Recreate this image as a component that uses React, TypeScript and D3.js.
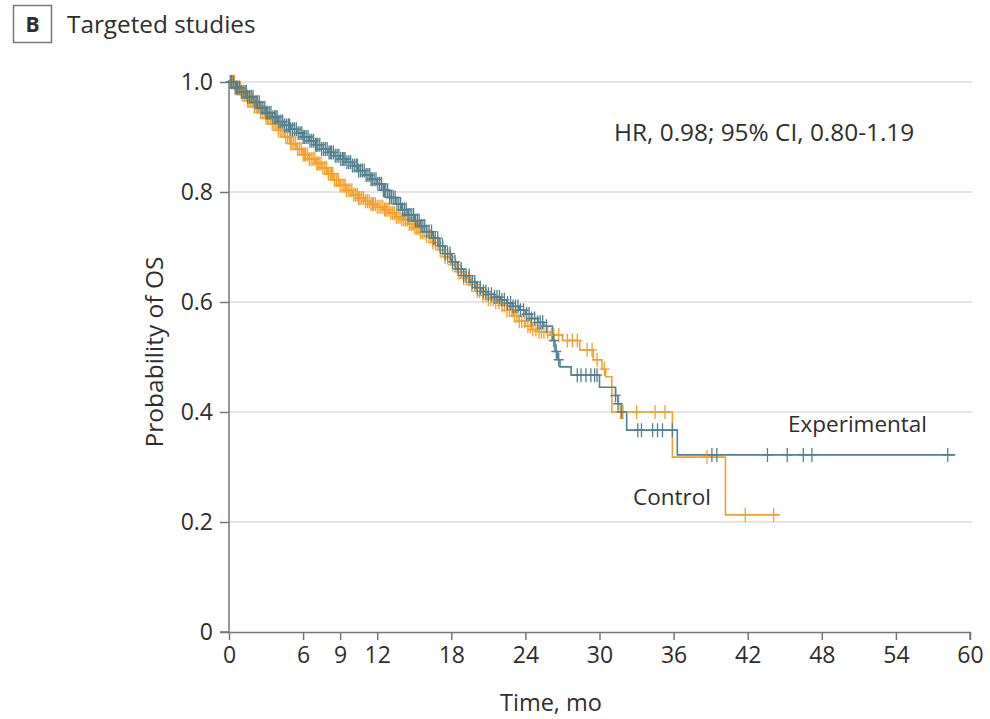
import React, { useEffect, useRef } from "react";
import * as d3 from "d3";

// Kaplan-Meier step points [time (mo), survival]
const experimentalSteps: [number, number][] = [
  [0, 1.0], [0.5, 0.99], [1, 0.982], [1.5, 0.973], [2, 0.963], [2.5, 0.953],
  [3, 0.944], [3.5, 0.936], [4, 0.928], [4.5, 0.921], [5, 0.914], [5.5, 0.907],
  [6, 0.9], [6.5, 0.893], [7, 0.886], [7.5, 0.878], [8, 0.872], [8.5, 0.866],
  [9, 0.86], [9.5, 0.854], [10, 0.848], [10.5, 0.839], [11, 0.831], [11.5, 0.823],
  [12, 0.815], [12.5, 0.803], [13, 0.79], [13.5, 0.778], [14, 0.768], [14.5, 0.758],
  [15, 0.748], [15.5, 0.738], [16, 0.728], [16.5, 0.716], [17, 0.702], [17.5, 0.688],
  [18, 0.673], [18.5, 0.66], [19, 0.648], [19.5, 0.636], [20, 0.626], [20.5, 0.619],
  [21, 0.614], [21.5, 0.609], [22, 0.604], [22.5, 0.598], [23, 0.592], [23.5, 0.585],
  [24, 0.578], [24.5, 0.57], [25, 0.563], [25.5, 0.556], [26.2, 0.53], [26.4, 0.51],
  [26.6, 0.495], [26.8, 0.482], [27.7, 0.467], [30.0, 0.445], [31.3, 0.43],
  [31.5, 0.415], [31.7, 0.4], [32.2, 0.367], [36.3, 0.322],
];
const experimentalEnd = 58.8;

const controlSteps: [number, number][] = [
  [0, 1.0], [0.5, 0.988], [1, 0.977], [1.5, 0.966], [2, 0.955], [2.5, 0.945],
  [3, 0.935], [3.5, 0.924], [4, 0.912], [4.5, 0.9], [5, 0.888], [5.5, 0.878],
  [6, 0.868], [6.5, 0.86], [7, 0.852], [7.5, 0.844], [8, 0.833], [8.5, 0.822],
  [9, 0.812], [9.5, 0.803], [10, 0.795], [10.5, 0.789], [11, 0.783], [11.5, 0.778],
  [12, 0.773], [12.5, 0.768], [13, 0.762], [13.5, 0.755], [14, 0.75], [14.5, 0.742],
  [15, 0.735], [15.5, 0.727], [16, 0.72], [16.5, 0.708], [17, 0.695], [17.5, 0.682],
  [18, 0.668], [18.5, 0.655], [19, 0.643], [19.5, 0.631], [20, 0.62], [20.5, 0.612],
  [21, 0.605], [21.5, 0.6], [22, 0.594], [22.5, 0.585], [23, 0.575], [23.5, 0.565],
  [24, 0.556], [24.5, 0.55], [25, 0.546], [26, 0.54], [27, 0.53], [28.4, 0.513],
  [29.5, 0.495], [30.2, 0.478], [30.5, 0.464], [31.0, 0.4], [35.9, 0.318], [40.2, 0.213],
];
const controlEnd = 44.6;

// censoring times (mo)
const experimentalCensored = [
  0.1, 0.2, 0.35, 0.5, 0.6, 0.7, 0.85, 1.0, 1.15, 1.3, 1.4, 1.5, 1.65, 1.8, 1.95, 2.1,
  2.2, 2.3, 2.45, 2.6, 2.75, 2.9, 3.0, 3.1, 3.25, 3.4, 3.55, 3.7, 3.8, 3.9, 4.05, 4.2,
  4.35, 4.5, 4.65, 4.8, 4.9, 5.0, 5.15, 5.3, 5.45, 5.6, 5.75, 5.9, 6.0, 6.1, 6.25, 6.4,
  6.55, 6.7, 6.85, 7.0, 7.1, 7.2, 7.35, 7.5, 7.65, 7.8, 7.95, 8.1, 8.2, 8.3, 8.45, 8.6,
  8.75, 8.9, 9.05, 9.2, 9.3, 9.4, 9.55, 9.7, 9.85, 10.0, 10.15, 10.3, 10.4, 10.5, 10.65,
  10.8, 10.95, 11.1, 11.25, 11.4, 11.5, 11.6, 11.75, 11.9, 12.05, 12.2, 12.35, 12.5,
  12.6, 12.7, 12.85, 13.0, 13.15, 13.3, 13.45, 13.6, 13.75, 13.9, 14.05, 14.2, 14.35,
  14.5, 14.65, 14.8, 14.95, 15.1, 15.25, 15.4, 15.55, 15.7, 15.85, 16.0, 16.2, 16.4,
  16.55, 16.7, 16.9, 17.1, 17.3, 17.5, 17.7, 17.9, 18.1, 18.3, 18.55, 18.8, 19.0, 19.2,
  19.45, 19.7, 19.9, 20.1, 20.35, 20.6, 20.8, 21.0, 21.25, 21.5, 21.7, 21.9, 22.1, 22.3,
  22.55, 22.8, 23.0, 23.2, 23.4, 23.6, 23.85, 24.1, 24.3, 24.5, 24.75, 25.0, 25.2, 25.4,
  25.7, 26.3, 26.5, 26.7, 28.2, 28.5, 28.9, 29.3, 29.6, 29.8, 31.3, 31.5, 31.8, 33.1,
  33.4, 34.3, 34.7, 35.1, 35.9, 39.1, 39.5, 43.6, 45.2, 46.5, 47.2, 58.2,
];
const controlCensored = [
  0.15, 0.3, 0.45, 0.6, 0.7, 0.8, 0.95, 1.1, 1.25, 1.4, 1.5, 1.6, 1.75, 1.9, 2.05, 2.2,
  2.3, 2.4, 2.55, 2.7, 2.85, 3.0, 3.1, 3.2, 3.35, 3.5, 3.65, 3.8, 3.9, 4.0, 4.15, 4.3,
  4.45, 4.6, 4.75, 4.9, 5.0, 5.1, 5.25, 5.4, 5.55, 5.7, 5.85, 6.0, 6.1, 6.2, 6.35, 6.5,
  6.65, 6.8, 6.95, 7.1, 7.2, 7.3, 7.45, 7.6, 7.75, 7.9, 8.05, 8.2, 8.3, 8.4, 8.55, 8.7,
  8.85, 9.0, 9.15, 9.3, 9.4, 9.5, 9.65, 9.8, 9.95, 10.1, 10.25, 10.4, 10.5, 10.6, 10.75,
  10.9, 11.05, 11.2, 11.35, 11.5, 11.6, 11.7, 11.85, 12.0, 12.15, 12.3, 12.45, 12.6,
  12.7, 12.8, 12.95, 13.1, 13.25, 13.4, 13.55, 13.7, 13.85, 14.0, 14.15, 14.3, 14.45,
  14.6, 14.75, 14.9, 15.05, 15.2, 15.35, 15.5, 15.65, 15.8, 16.0, 16.2, 16.35, 16.5,
  16.7, 16.9, 17.1, 17.3, 17.5, 17.7, 17.9, 18.1, 18.35, 18.6, 18.8, 19.0, 19.2, 19.4,
  19.65, 19.9, 20.1, 20.3, 20.55, 20.8, 21.0, 21.2, 21.4, 21.6, 21.85, 22.1, 22.3, 22.5,
  22.7, 22.9, 23.1, 23.3, 23.5, 23.7, 23.95, 24.2, 24.4, 24.6, 24.85, 25.1, 25.3, 25.5,
  25.8, 26.1, 26.3, 26.7, 27.4, 27.8, 28.2, 29.0, 29.4, 29.8, 30.4, 31.7, 31.9, 33.0,
  34.5, 35.3, 38.7, 41.8, 44.1,
];

const xTicks = [0, 6, 9, 12, 18, 24, 30, 36, 42, 48, 54, 60];
const yTicks = [0, 0.2, 0.4, 0.6, 0.8, 1.0];

const BLUE = "#52808f";
const ORANGE = "#f4a02c";
const FONT = "'Open Sans', 'Noto Sans', sans-serif";
const INK = "#2e2e2e";

export default function App() {
  const ref = useRef<SVGSVGElement>(null);

  useEffect(() => {
    const width = 990;
    const height = 719;
    const left = 229, right = 970, top = 82, bottom = 632;

    const svg = d3.select(ref.current);
    svg.selectAll("*").remove();
    svg.attr("width", width).attr("height", height);

    const x = d3.scaleLinear().domain([0, 60]).range([left, right]);
    const y = d3.scaleLinear().domain([0, 1]).range([bottom, top]);

    // title
    svg.append("rect")
      .attr("x", 13.5).attr("y", 5.5).attr("width", 38).attr("height", 37)
      .attr("fill", "none").attr("stroke", "#777").attr("stroke-width", 1.5);
    svg.append("text")
      .attr("x", 32.5).attr("y", 32).attr("text-anchor", "middle")
      .attr("font-family", FONT).attr("font-weight", 700).attr("font-size", 21)
      .attr("fill", INK).text("B");
    svg.append("text")
      .attr("x", 67).attr("y", 33)
      .attr("font-family", FONT).attr("font-size", 24.3)
      .attr("fill", INK).text("Targeted studies");

    // gridlines
    svg.append("g")
      .selectAll("line")
      .data(yTicks.filter((d) => d > 0))
      .enter()
      .append("line")
      .attr("x1", left).attr("x2", right + 2)
      .attr("y1", (d) => y(d)).attr("y2", (d) => y(d))
      .attr("stroke", "#dcdcdc").attr("stroke-width", 1.5);

    // axes
    const yAxis = svg.append("g")
      .attr("transform", `translate(${left},0)`)
      .call(d3.axisLeft(y).tickValues(yTicks).tickSize(9).tickPadding(7)
        .tickFormat((d) => (+d === 0 ? "0" : d3.format(".1f")(+d))));
    const xAxis = svg.append("g")
      .attr("transform", `translate(0,${bottom})`)
      .call(d3.axisBottom(x).tickValues(xTicks).tickSize(8).tickPadding(15)
        .tickFormat(d3.format("d")));
    [xAxis, yAxis].forEach((g) => {
      g.select(".domain").attr("stroke", "#777").attr("stroke-width", 1.5);
      g.selectAll(".tick line").attr("stroke", "#777").attr("stroke-width", 1.5);
      g.selectAll(".tick text")
        .attr("font-family", FONT).attr("font-size", 23).attr("fill", INK);
    });
    xAxis.selectAll(".tick text").attr("y", 15).attr("dy", "0.71em");
    xAxis.select(".domain").attr("d", `M${left},0.5H${right}V8`);
    yAxis.select(".domain").attr("d", `M-9,${bottom}H0V${top - 2}`);

    // axis titles
    svg.append("text")
      .attr("x", 551).attr("y", 711).attr("text-anchor", "middle")
      .attr("font-family", FONT).attr("font-size", 23.5).attr("fill", INK)
      .text("Time, mo");
    svg.append("text")
      .attr("transform", `translate(163,${(top + bottom) / 2 - 5}) rotate(-90)`)
      .attr("text-anchor", "middle")
      .attr("font-family", FONT).attr("font-size", 24.5).attr("fill", INK)
      .text("Probability of OS");

    const line = d3.line<[number, number]>()
      .x((d) => x(d[0])).y((d) => y(d[1]))
      .curve(d3.curveStepAfter);

    const survAt = (steps: [number, number][], t: number) => {
      const i = d3.bisector((d: [number, number]) => d[0]).right(steps, t) - 1;
      return steps[Math.max(i, 0)][1];
    };

    const arms = [
      { steps: controlSteps, end: controlEnd, censored: controlCensored, color: ORANGE },
      { steps: experimentalSteps, end: experimentalEnd, censored: experimentalCensored, color: BLUE },
    ];

    arms.forEach((arm) => {
      const pts: [number, number][] = [...arm.steps, [arm.end, arm.steps[arm.steps.length - 1][1]]];
      svg.append("path")
        .attr("d", line(pts))
        .attr("fill", "none").attr("stroke", arm.color).attr("stroke-width", 1.6);
    });

    // censor marks
    arms.forEach((arm) => {
      const g = svg.append("g").attr("stroke", arm.color).attr("stroke-width", 1.3);
      g.selectAll("path")
        .data(arm.censored)
        .enter()
        .append("path")
        .attr("d", (t) => {
          const cx = x(t), cy = y(survAt(arm.steps, t));
          return `M${cx},${cy - 7}V${cy + 7}M${cx - 5},${cy}H${cx + 5}`;
        });
    });

    // annotations
    svg.append("text")
      .attr("x", 614).attr("y", 141)
      .attr("font-family", FONT).attr("font-size", 24.4).attr("fill", INK)
      .text("HR, 0.98; 95% CI, 0.80-1.19");
    svg.append("text")
      .attr("x", 788).attr("y", 432)
      .attr("font-family", FONT).attr("font-size", 22.5).attr("fill", INK)
      .text("Experimental");
    svg.append("text")
      .attr("x", 633).attr("y", 505)
      .attr("font-family", FONT).attr("font-size", 22.5).attr("fill", INK)
      .text("Control");
  }, []);

  return (
    <svg ref={ref} style={{ position: "absolute", left: 0, top: 0, background: "#fff" }} />
  );
}
